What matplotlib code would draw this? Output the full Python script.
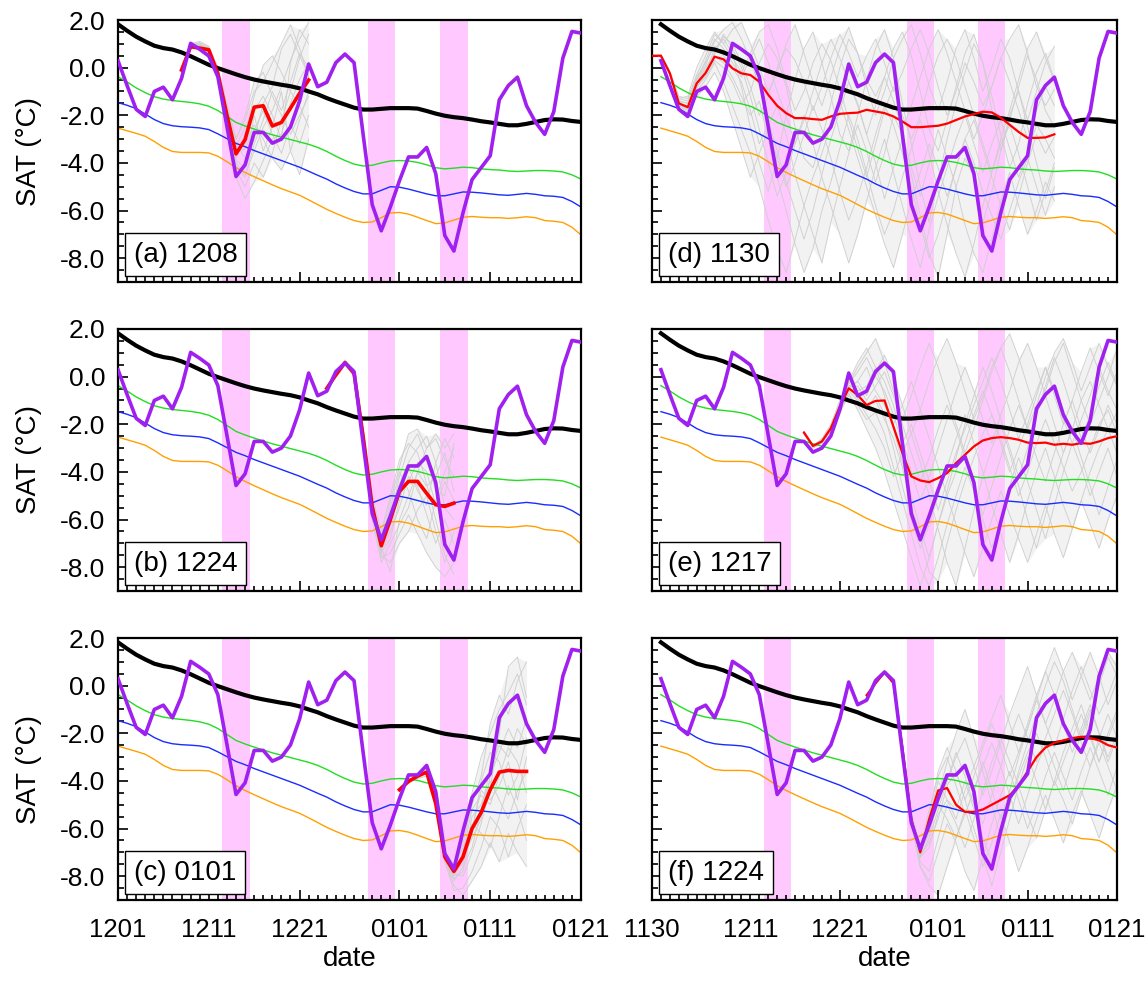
import matplotlib
matplotlib.use('Agg')
import matplotlib.pyplot as plt
import numpy as np

plt.rcParams['font.family'] = ['Liberation Sans', 'DejaVu Sans']

# ---------------- data (day index: 0 = Dec 1, 31 = Jan 1) ----------------
clim_mean = [1.82, 1.55, 1.30, 1.10, 0.92, 0.82, 0.76, 0.64, 0.48, 0.30,
             0.12, -0.02, -0.15, -0.28, -0.40, -0.50, -0.58, -0.65, -0.72, -0.78,
             -0.87, -1.00, -1.12, -1.28, -1.42, -1.55, -1.68, -1.76, -1.76, -1.73,
             -1.70, -1.70, -1.70, -1.72, -1.82, -1.93, -2.02, -2.08, -2.12, -2.18,
             -2.25, -2.30, -2.36, -2.42, -2.42, -2.36, -2.28, -2.20, -2.17, -2.18,
             -2.24, -2.28]
obs_sat = [0.29, -0.75, -1.75, -2.05, -1.00, -0.82, -1.35, -0.45, 1.02, 0.77,
           0.49, -0.38, -2.47, -4.57, -4.08, -2.72, -2.72, -3.17, -3.00, -2.49,
           -1.40, 0.15, -0.80, -0.61, 0.21, 0.57, 0.21, -2.80, -5.75, -6.85,
           -5.85, -4.75, -3.75, -3.75, -3.35, -4.45, -7.05, -7.70, -6.10, -4.70,
           -4.20, -3.70, -1.35, -0.75, -0.40, -1.60, -2.30, -2.80, -1.85, 0.40,
           1.52, 1.45]
pct_green = [-0.38, -0.60, -0.85, -1.05, -1.22, -1.32, -1.38, -1.42, -1.46, -1.52,
             -1.62, -1.80, -2.05, -2.30, -2.45, -2.58, -2.70, -2.82, -2.92, -3.02,
             -3.12, -3.22, -3.35, -3.52, -3.72, -3.90, -4.05, -4.13, -4.10, -4.00,
             -3.92, -3.90, -3.92, -3.98, -4.08, -4.20, -4.25, -4.22, -4.18, -4.20,
             -4.25, -4.28, -4.30, -4.34, -4.36, -4.34, -4.32, -4.32, -4.34, -4.38,
             -4.50, -4.68]
pct_blue = [-1.47, -1.58, -1.72, -1.95, -2.18, -2.35, -2.44, -2.48, -2.50, -2.53,
            -2.60, -2.78, -2.98, -3.18, -3.32, -3.48, -3.62, -3.76, -3.90, -4.04,
            -4.18, -4.35, -4.52, -4.68, -4.88, -5.05, -5.20, -5.30, -5.30, -5.15,
            -5.00, -5.02, -5.10, -5.20, -5.30, -5.38, -5.38, -5.30, -5.22, -5.23,
            -5.26, -5.30, -5.34, -5.36, -5.32, -5.28, -5.32, -5.38, -5.40, -5.45,
            -5.62, -5.85]
pct_orange = [-2.54, -2.65, -2.76, -2.88, -3.10, -3.35, -3.52, -3.56, -3.56, -3.56,
              -3.58, -3.72, -3.95, -4.20, -4.40, -4.58, -4.75, -4.92, -5.08, -5.22,
              -5.36, -5.55, -5.75, -5.95, -6.12, -6.28, -6.42, -6.50, -6.48, -6.30,
              -6.10, -6.08, -6.15, -6.28, -6.42, -6.55, -6.52, -6.40, -6.28, -6.25,
              -6.28, -6.30, -6.30, -6.33, -6.30, -6.26, -6.30, -6.42, -6.45, -6.50,
              -6.70, -7.02]

cold_event_days = [13, 29, 37]

# forecast start days and ensemble means
start_a, start_b, start_c = 7, 23, 31
start_d, start_e, start_f = -1, 16, 23

mean_a = [-0.10, 0.88, 0.82, 0.75, -0.25, -2.00, -3.62, -3.02, -1.66, -1.60,
          -2.45, -2.30, -1.70, -1.08, -0.52]
mean_b = [-0.49, 0.07, 0.59, 0.14, -2.50, -5.45, -7.10, -6.00, -4.82, -4.40,
          -4.40, -4.90, -5.38, -5.45, -5.31]
mean_c = [-4.37, -4.02, -3.80, -3.63, -4.95, -7.19, -7.80, -7.19, -6.00, -5.33,
          -4.37, -3.63, -3.56, -3.60, -3.60]
mean_d = [0.50, 0.50, -0.24, -1.50, -1.66, -0.66, -0.22, 0.46, 0.35, -0.03,
          -0.24, -0.31, -0.59, -1.14, -1.60, -1.91, -2.12, -2.12, -2.16, -2.19,
          -2.05, -1.94, -1.91, -1.89, -1.77, -1.84, -1.91, -2.05, -2.26, -2.50,
          -2.50, -2.47, -2.44, -2.35, -2.20, -2.05, -1.95, -1.85, -1.88, -2.10,
          -2.40, -2.70, -2.95, -2.95, -2.93, -2.80]
mean_e = [-2.35, -2.91, -2.72, -2.17, -1.26, -0.49, -0.77, -1.19, -1.02, -1.00,
          -2.10, -3.21, -4.19, -4.36, -4.43, -4.26, -4.05, -3.63, -3.28, -2.93,
          -2.68, -2.58, -2.54, -2.58, -2.65, -2.77, -2.79, -2.77, -2.86, -2.82,
          -2.86, -2.79, -2.82, -2.72, -2.58, -2.50]
mean_f = [-0.40, 0.10, 0.55, 0.10, -2.60, -5.60, -7.00, -5.60, -4.40, -4.30,
          -5.00, -5.30, -5.30, -5.20, -5.00, -4.80, -4.60, -4.20, -3.60, -3.00,
          -2.60, -2.40, -2.30, -2.20, -2.15, -2.20, -2.30, -2.50, -2.60]

members_a = [
    [-0.10, 0.90, 1.00, 0.80, -0.20, -2.20, -4.00, -4.50, -3.50, -2.50, -1.80, -0.80, 0.30, 1.20, 1.90],
    [-0.20, 0.80, 0.80, 0.60, -0.50, -2.60, -4.60, -5.50, -4.80, -3.90, -3.00, -2.80, -1.50, -0.50, 0.20],
    [0.00, 1.00, 1.10, 0.90, 0.00, -1.50, -3.00, -2.00, -0.60, -0.20, -1.20, -2.00, -2.80, -2.00, -1.20],
    [-0.10, 0.90, 0.90, 0.70, -0.30, -2.00, -3.50, -3.20, -2.40, -3.00, -3.80, -4.30, -3.50, -2.20, -1.00],
    [-0.20, 0.80, 0.90, 0.80, -0.40, -2.30, -3.80, -2.80, -1.20, 0.10, 0.50, -0.20, -1.00, -1.60, -2.50],
    [-0.10, 0.90, 1.00, 0.70, -0.10, -1.80, -3.20, -3.80, -3.00, -1.50, -0.80, 0.80, 1.40, 0.50, -0.30],
    [-0.10, 0.85, 0.90, 0.80, -0.30, -2.10, -3.90, -4.20, -2.00, -3.50, -2.50, -1.00, -3.50, -4.50, -3.00],
    [-0.15, 0.90, 0.95, 0.75, -0.25, -1.90, -3.30, -2.50, -1.80, -1.20, -2.00, -3.00, 0.20, 1.60, 1.00],
    [-0.05, 0.95, 1.05, 0.85, -0.10, -1.70, -3.00, -2.20, -1.00, -0.60, 0.20, 1.00, 1.80, 0.80, -0.40],
    [-0.20, 0.85, 0.85, 0.65, -0.45, -2.40, -4.30, -5.00, -4.00, -4.60, -3.60, -2.20, -1.00, 0.40, 1.40],
    [-0.10, 0.90, 0.95, 0.80, -0.20, -2.00, -3.60, -3.40, -2.60, -1.80, -2.80, -3.60, -2.40, -3.20, -2.00],
    [-0.15, 0.88, 0.92, 0.72, -0.35, -2.20, -4.10, -4.60, -3.20, -2.20, -1.00, -1.80, -0.60, 0.60, 0.00],
]
members_b = [
    [-0.50, 0.10, 0.70, 0.30, -2.20, -5.00, -6.50, -5.00, -3.50, -2.80, -3.20, -4.50, -6.00, -7.50, -8.30],
    [-0.45, 0.00, 0.50, 0.00, -2.80, -6.00, -7.80, -7.00, -6.20, -5.50, -4.00, -3.00, -2.60, -3.50, -4.20],
    [-0.50, 0.10, 0.60, 0.20, -2.40, -5.30, -6.80, -5.50, -4.00, -4.80, -6.00, -6.80, -5.20, -4.00, -3.00],
    [-0.55, 0.05, 0.55, 0.10, -2.60, -5.80, -7.50, -7.80, -7.00, -6.50, -5.60, -5.00, -6.50, -7.80, -6.50],
    [-0.50, 0.10, 0.65, 0.20, -2.30, -5.20, -6.90, -6.00, -4.20, -3.00, -2.40, -3.50, -4.80, -5.00, -2.80],
    [-0.48, 0.05, 0.60, 0.15, -2.50, -5.60, -7.30, -6.50, -5.50, -4.20, -4.60, -5.80, -7.00, -6.00, -7.00],
    [-0.50, 0.10, 0.60, 0.10, -2.60, -5.70, -7.00, -5.80, -4.50, -3.60, -3.00, -2.50, -3.60, -5.50, -6.00],
    [-0.50, 0.05, 0.55, 0.15, -2.50, -5.50, -7.20, -8.20, -6.00, -5.00, -4.00, -4.60, -4.20, -3.20, -4.80],
    [-0.50, 0.10, 0.62, 0.20, -2.40, -5.40, -6.60, -5.20, -3.80, -2.40, -2.20, -3.00, -2.40, -3.00, -2.40],
    [-0.48, 0.05, 0.58, 0.12, -2.60, -5.70, -7.60, -7.40, -6.60, -5.80, -6.60, -7.40, -8.00, -8.40, -7.80],
    [-0.50, 0.08, 0.60, 0.16, -2.50, -5.50, -7.00, -6.20, -5.00, -4.40, -3.60, -4.00, -5.40, -4.40, -5.20],
    [-0.50, 0.06, 0.56, 0.10, -2.55, -5.60, -7.40, -6.80, -5.20, -3.80, -4.80, -5.40, -3.60, -2.60, -3.40],
]
members_c = [
    [-4.40, -4.00, -3.70, -3.50, -4.80, -7.00, -7.50, -6.00, -4.50, -3.00, -2.00, -1.00, -0.30, 0.50, -0.80],
    [-4.35, -4.05, -3.90, -3.80, -5.10, -7.40, -8.60, -8.50, -7.80, -6.80, -5.50, -6.00, -7.20, -6.00, -5.00],
    [-4.40, -4.00, -3.80, -3.60, -4.90, -7.10, -7.80, -7.00, -5.20, -4.60, -5.00, -3.80, -2.60, -3.20, -4.50],
    [-4.35, -4.00, -3.75, -3.70, -5.00, -7.30, -8.20, -7.60, -6.80, -5.20, -3.50, -2.50, -3.00, -1.80, -2.50],
    [-4.40, -4.10, -3.85, -3.60, -4.85, -7.00, -7.60, -6.80, -5.80, -6.20, -6.80, -5.50, -4.20, -5.20, -6.50],
    [-4.38, -4.00, -3.80, -3.65, -5.00, -7.20, -8.00, -7.30, -6.20, -4.00, -2.80, -3.20, -4.60, -3.80, -2.20],
    [-4.37, -4.02, -3.80, -3.60, -4.90, -7.20, -7.90, -8.00, -7.00, -5.80, -4.30, -2.00, 0.80, 1.20, -0.50],
    [-4.36, -4.00, -3.80, -3.62, -4.95, -7.10, -7.70, -7.50, -5.50, -5.00, -4.00, -4.80, -5.60, -4.40, -3.60],
    [-4.38, -4.02, -3.82, -3.64, -4.90, -7.10, -7.70, -6.60, -5.00, -3.80, -1.60, -0.40, -1.20, 0.20, 1.00],
    [-4.36, -4.02, -3.80, -3.60, -5.00, -7.30, -8.40, -8.80, -8.20, -7.60, -6.60, -7.40, -6.20, -7.00, -7.60],
    [-4.37, -4.00, -3.78, -3.62, -4.92, -7.10, -7.80, -7.20, -6.40, -5.60, -3.80, -2.80, -1.80, -2.60, -1.40],
    [-4.38, -4.04, -3.82, -3.66, -5.00, -7.25, -8.10, -7.80, -6.00, -4.40, -4.80, -4.20, -3.20, -4.80, -3.00],
]
members_d = [
    [0.50, 0.50, -0.30, -1.60, -1.80, -0.90, -0.20, 0.80, 1.20, 0.60,
     -0.80, -2.50, -4.00, -5.20, -3.80, -2.00, -0.50, 0.80, 1.50, 0.20,
     -1.20, -2.80, -3.50, -2.00, -0.50, 0.80, 1.60, 0.40, -1.50, -3.20,
     -5.00, -6.50, -4.80, -3.00, -1.50, -0.20, 1.00, 0.20, -1.80, -3.50,
     -2.20, -0.80, 0.50, -0.50, -1.80, -2.50],
    [0.55, 0.45, -0.20, -1.40, -1.50, -0.50, 0.10, 1.10, 1.60, 1.90,
     1.20, 0.30, -0.80, -2.20, -3.50, -4.80, -6.00, -7.20, -6.00, -4.50,
     -3.00, -1.80, -0.60, -1.50, -2.80, -4.00, -5.50, -4.20, -3.00, -4.50,
     -6.20, -7.80, -8.80, -7.00, -5.00, -3.80, -4.60, -6.50, -5.20, -3.50,
     -2.00, -1.00, -2.50, -4.00, -5.50, -4.20],
    [0.50, 0.50, -0.25, -1.50, -1.70, -0.80, -0.40, 0.30, 0.00, -0.60,
     -1.50, -1.00, 0.20, 1.00, 0.40, -0.80, -2.50, -3.80, -4.20, -3.00,
     -1.50, 0.00, 1.20, 0.60, -0.50, -1.20, -0.40, 0.80, 1.50, 0.50,
     -1.00, -2.60, -3.50, -2.20, -0.80, 0.60, 1.40, 0.20, -1.20, -2.80,
     -4.20, -3.20, -1.50, -0.20, 0.60, -0.50],
    [0.45, 0.50, -0.20, -1.30, -1.40, -0.40, 0.20, 0.90, 0.50, 0.00,
     -0.60, -1.80, -3.20, -2.40, -1.60, -2.80, -4.50, -5.80, -7.00, -8.20,
     -6.50, -5.00, -3.60, -2.40, -3.50, -4.80, -3.60, -2.00, -2.80, -4.20,
     -5.40, -4.00, -2.60, -3.80, -5.00, -6.60, -7.80, -8.60, -7.20, -5.60,
     -4.40, -5.80, -7.00, -6.00, -4.80, -5.60],
    [0.50, 0.55, -0.15, -1.20, -1.30, -0.30, 0.50, 1.40, 1.00, 0.40,
     -0.20, 0.60, 1.50, 1.80, 0.80, -0.60, -1.80, -1.00, 0.20, 1.00,
     0.30, -0.90, -2.20, -3.40, -4.60, -3.20, -1.80, -0.80, -2.00, -3.00,
     -2.00, -0.60, 0.50, 1.20, 0.40, -0.80, -2.00, -3.20, -4.40, -3.00,
     -1.80, -0.50, 0.80, 1.50, 0.40, -0.60],
    [0.50, 0.50, -0.30, -1.60, -1.90, -1.20, -0.80, -0.20, -1.00, -2.20,
     -3.40, -4.60, -3.60, -2.60, -3.80, -5.00, -4.00, -2.80, -1.60, -2.60,
     -3.80, -5.20, -6.40, -5.40, -4.20, -2.80, -1.60, -2.40, -3.60, -5.00,
     -6.60, -8.00, -7.00, -5.60, -4.20, -3.00, -2.20, -3.40, -4.60, -5.80,
     -6.80, -5.40, -4.00, -2.80, -3.60, -2.90],
    [0.50, 0.48, -0.25, -1.50, -1.60, -0.60, 0.00, 0.60, 1.30, 1.00,
     0.20, -0.80, -2.00, -1.20, 0.00, 0.80, 0.30, -0.60, -1.80, -0.80,
     0.40, 1.40, 0.60, -0.40, 0.50, 1.20, 0.20, -1.00, -0.20, 0.80,
     1.60, 0.60, -0.80, -2.00, -1.00, 0.20, -0.60, -1.60, -0.80, 0.40,
     1.20, 1.80, 0.60, -0.80, -1.60, -0.90],
    [0.50, 0.52, -0.20, -1.45, -1.65, -0.70, -0.10, 0.50, 0.20, -0.40,
     -1.20, -2.00, -1.40, -3.00, -4.60, -6.00, -7.40, -8.60, -7.60, -6.00,
     -4.80, -3.40, -2.00, -3.00, -4.40, -5.80, -7.00, -6.00, -4.60, -3.40,
     -2.20, -3.60, -5.20, -6.60, -7.80, -8.80, -7.40, -5.80, -4.40, -3.20,
     -2.40, -3.60, -5.00, -6.40, -5.20, -4.00],
    [0.50, 0.50, -0.20, -1.30, -1.20, 0.00, 0.80, 1.50, 1.00, 1.60,
     1.90, 1.00, 0.00, -1.00, -0.20, 1.00, 1.80, 0.60, -0.60, -1.60,
     -0.40, 0.80, 1.70, 0.60, -0.80, -2.00, -1.00, 0.40, 1.20, 1.80,
     0.60, -0.80, -1.80, -0.60, 0.80, 1.60, 0.40, -1.00, 0.00, 1.20,
     0.40, -1.00, -2.20, -1.00, 0.20, 0.90],
    [0.50, 0.50, -0.30, -1.55, -1.75, -1.00, -0.50, 0.20, -0.60, -1.60,
     -2.60, -3.60, -5.00, -6.40, -7.60, -8.60, -7.20, -5.80, -4.60, -3.60,
     -2.40, -1.40, -2.60, -3.80, -5.00, -6.20, -7.40, -8.40, -7.00, -5.60,
     -4.40, -3.20, -4.20, -5.40, -4.20, -3.00, -4.00, -5.20, -6.20, -7.20,
     -6.00, -4.80, -3.80, -5.00, -6.20, -5.00],
    [0.50, 0.50, -0.20, -1.40, -1.50, -0.50, 0.30, 1.20, 0.80, 0.20,
     -0.40, 0.40, 1.20, 0.20, -1.00, -2.00, -3.20, -2.20, -1.00, 0.20,
     1.20, 0.40, -0.60, -1.60, -2.80, -1.60, -0.40, -1.40, -2.60, -1.60,
     -0.40, 0.80, 1.60, 0.60, -0.60, -1.80, -3.00, -2.00, -0.80, 0.40,
     -0.60, -1.80, -3.00, -1.80, -0.80, -1.60],
    [0.50, 0.50, -0.25, -1.50, -1.70, -0.80, -0.30, 0.60, 1.40, 0.80,
     0.00, -1.20, -2.60, -4.00, -5.40, -4.40, -3.20, -2.00, -3.20, -4.60,
     -5.80, -7.00, -8.20, -7.00, -5.60, -4.20, -3.00, -4.40, -5.80, -7.20,
     -8.40, -6.80, -5.40, -4.20, -3.00, -2.00, -3.20, -4.40, -3.20, -2.20,
     -3.40, -4.60, -3.60, -2.40, -3.00, -3.80],
]
members_e = [
    [-2.40, -2.90, -2.60, -2.00, -1.00, -0.20, 0.60, 1.20, 0.40, -0.80,
     -2.20, -3.60, -5.00, -6.40, -7.60, -6.20, -4.80, -3.40, -2.00, -0.80,
     0.40, -0.60, -1.80, -3.00, -4.20, -3.00, -1.60, -0.40, 0.80, -0.20,
     -1.40, -2.60, -1.60, -0.40, 0.60, -0.30],
    [-2.30, -2.95, -2.80, -2.30, -1.50, -0.80, -1.20, -1.80, -1.50, -2.40,
     -3.80, -5.20, -6.60, -8.00, -8.80, -7.60, -6.20, -5.00, -3.80, -4.80,
     -6.00, -7.20, -6.00, -4.60, -3.40, -4.40, -5.60, -6.80, -5.40, -4.00,
     -2.80, -3.80, -5.00, -4.00, -3.00, -4.20],
    [-2.35, -2.85, -2.70, -2.10, -1.20, -0.40, -0.20, -0.80, 0.20, 0.90,
     0.00, -1.20, -2.40, -1.40, -0.20, 0.80, 1.60, 0.60, -0.60, -1.80,
     -0.80, 0.40, 1.20, 0.20, -1.00, -2.20, -1.20, 0.00, 1.00, 1.60,
     0.60, -0.60, 0.40, 1.40, 0.40, -0.40],
    [-2.40, -3.00, -2.80, -2.20, -1.40, -0.60, -1.00, -1.60, -2.20, -3.00,
     -4.20, -3.20, -2.40, -3.60, -5.00, -6.40, -7.80, -8.80, -7.20, -5.60,
     -4.20, -3.00, -2.00, -3.20, -4.60, -6.00, -7.20, -5.80, -4.40, -3.20,
     -2.20, -3.40, -4.60, -5.80, -4.60, -3.50],
    [-2.30, -2.90, -2.75, -2.20, -1.30, -0.50, -0.60, -0.40, 0.40, -0.20,
     -1.20, -2.60, -4.00, -5.20, -4.20, -3.00, -1.80, -0.60, 0.40, -0.60,
     -1.80, -2.80, -1.60, -0.60, 0.60, 1.40, 0.40, -0.80, -2.00, -3.20,
     -2.20, -1.00, -0.20, -1.20, -2.20, -1.50],
    [-2.35, -2.90, -2.70, -2.15, -1.25, -0.45, -0.90, -1.40, -0.80, -1.60,
     -3.00, -4.60, -6.00, -7.20, -6.20, -5.00, -3.80, -2.60, -1.60, -2.80,
     -4.00, -5.40, -6.60, -7.80, -6.60, -5.20, -4.00, -3.00, -4.20, -5.40,
     -6.40, -5.20, -4.00, -3.00, -2.20, -3.20],
    [-2.40, -2.90, -2.65, -2.10, -1.10, -0.30, 0.20, 0.80, 0.00, -0.60,
     -1.60, -2.80, -2.00, -3.20, -4.40, -5.60, -4.40, -3.20, -2.20, -1.20,
     -0.20, 0.80, -0.20, -1.40, -2.60, -1.60, -0.60, 0.40, -0.80, -2.00,
     -1.00, 0.20, 1.20, 0.20, -0.80, 0.20],
    [-2.30, -2.85, -2.70, -2.20, -1.30, -0.50, -0.80, -1.20, -1.00, -1.80,
     -2.60, -3.80, -5.40, -6.80, -8.20, -8.60, -7.00, -5.60, -4.40, -3.40,
     -2.40, -1.60, -2.60, -3.80, -5.00, -4.00, -2.80, -1.80, -2.80, -3.80,
     -4.80, -4.00, -3.00, -2.00, -1.40, -2.40],
    [-2.35, -2.90, -2.70, -2.10, -1.10, -0.30, 0.40, 1.00, 1.60, 0.60,
     -0.60, -1.80, -0.80, 0.40, 1.40, 0.40, -0.80, -2.00, -3.20, -2.20,
     -1.00, 0.20, 1.20, 1.80, 0.80, -0.40, -1.60, -0.60, 0.60, 1.40,
     0.20, -1.00, -2.00, -1.00, 0.00, 1.20],
    [-2.35, -2.95, -2.80, -2.25, -1.40, -0.70, -1.40, -2.20, -3.00, -4.00,
     -5.20, -6.40, -7.60, -8.80, -7.60, -6.20, -5.00, -6.20, -7.40, -8.40,
     -7.20, -6.00, -4.80, -5.80, -6.80, -7.80, -6.60, -5.40, -6.60, -7.60,
     -6.40, -5.20, -6.20, -7.20, -6.00, -5.00],
    [-2.35, -2.90, -2.70, -2.15, -1.20, -0.40, -0.40, -1.00, -0.40, 0.20,
     -0.80, -2.00, -3.20, -4.40, -3.40, -2.20, -1.20, -2.20, -3.40, -4.60,
     -5.80, -4.60, -3.40, -2.20, -1.20, -2.20, -3.40, -4.40, -3.20, -2.00,
     -1.00, -2.20, -3.20, -2.20, -1.20, -2.00],
    [-2.40, -2.90, -2.70, -2.20, -1.30, -0.50, -0.20, 0.40, -0.60, -1.20,
     -2.00, -1.20, -0.20, -1.40, -2.60, -3.80, -5.00, -4.00, -2.80, -1.60,
     -0.60, -1.60, -2.80, -4.00, -3.00, -2.00, -0.80, 0.40, -0.60, -1.80,
     -2.80, -1.80, -0.80, 0.40, -0.60, -1.40],
]
members_f = [
    [-0.45, 0.10, 0.65, 0.20, -2.40, -5.40, -7.00, -6.00, -4.60, -3.20,
     -2.00, -1.00, -2.20, -3.60, -5.00, -6.40, -5.00, -3.60, -2.40, -1.20,
     0.00, 1.00, 0.20, -1.00, -2.20, -1.20, 0.00, 1.20, 0.40],
    [-0.50, 0.05, 0.55, 0.10, -2.70, -5.80, -7.60, -8.20, -7.00, -5.80,
     -6.60, -7.80, -8.60, -7.20, -5.80, -4.60, -3.60, -4.80, -6.00, -5.00,
     -3.80, -2.80, -3.80, -4.80, -3.60, -2.60, -3.60, -4.60, -3.40],
    [-0.50, 0.10, 0.60, 0.10, -2.50, -5.60, -7.20, -5.60, -4.00, -4.80,
     -5.60, -4.40, -3.40, -2.40, -1.40, -0.40, -1.60, -2.80, -1.80, -0.60,
     0.60, -0.40, -1.60, -2.80, -1.80, -0.80, -2.00, -3.20, -2.20],
    [-0.48, 0.08, 0.58, 0.15, -2.55, -5.50, -7.10, -6.60, -5.60, -4.20,
     -3.60, -4.80, -6.00, -7.20, -8.40, -7.00, -5.60, -4.20, -3.00, -4.00,
     -5.20, -4.00, -2.80, -1.80, -0.80, -2.00, -3.20, -2.20, -1.20],
    [-0.50, 0.10, 0.62, 0.18, -2.45, -5.30, -6.80, -5.20, -3.80, -3.00,
     -4.20, -5.40, -4.40, -3.20, -4.40, -5.60, -4.40, -3.00, -1.80, -0.60,
     -1.60, -2.60, -1.40, -0.20, 0.80, -0.20, -1.20, -0.40, 0.60],
    [-0.46, 0.06, 0.56, 0.12, -2.60, -5.70, -7.40, -7.80, -6.40, -5.00,
     -5.80, -6.80, -5.60, -4.40, -3.20, -2.20, -3.20, -4.20, -5.40, -6.40,
     -5.20, -4.00, -4.80, -5.80, -4.60, -3.40, -2.40, -3.40, -4.40],
    [-0.50, 0.10, 0.60, 0.15, -2.50, -5.50, -7.00, -6.20, -4.80, -4.00,
     -3.00, -2.20, -3.40, -4.60, -3.60, -2.40, -1.20, -0.20, 0.80, -0.40,
     -1.60, -0.60, 0.60, 1.40, 0.40, -0.60, 0.40, 1.40, 0.80],
    [-0.48, 0.10, 0.60, 0.12, -2.55, -5.60, -7.20, -6.80, -5.40, -4.80,
     -5.20, -4.00, -5.20, -6.40, -7.40, -6.20, -5.00, -3.80, -2.80, -2.00,
     -3.00, -4.20, -3.20, -2.20, -1.20, -2.20, -3.20, -2.00, -1.00],
    [-0.50, 0.10, 0.60, 0.15, -2.50, -5.40, -6.80, -5.40, -3.60, -2.60,
     -3.60, -4.80, -3.80, -2.60, -1.60, -2.60, -3.80, -2.80, -1.60, -0.40,
     0.60, 1.60, 0.60, -0.60, 0.40, 1.40, 0.40, -0.80, 0.20],
    [-0.48, 0.06, 0.56, 0.10, -2.60, -5.80, -7.60, -8.40, -8.80, -7.60,
     -6.40, -5.20, -6.40, -7.60, -6.60, -5.40, -6.60, -7.80, -6.80, -5.60,
     -4.60, -5.60, -6.60, -5.40, -4.40, -5.40, -6.40, -5.20, -4.20],
    [-0.50, 0.08, 0.58, 0.14, -2.50, -5.50, -7.10, -6.00, -5.00, -5.60,
     -6.40, -5.40, -4.40, -3.40, -2.40, -3.40, -4.60, -5.80, -4.60, -3.40,
     -2.40, -3.40, -4.40, -3.20, -2.00, -1.00, -2.00, -3.00, -2.00],
    [-0.48, 0.10, 0.60, 0.12, -2.55, -5.60, -7.20, -6.40, -5.20, -4.00,
     -2.80, -3.80, -5.00, -5.80, -4.60, -3.40, -2.20, -1.20, -2.20, -3.20,
     -2.20, -1.20, -0.20, -1.20, -2.40, -3.40, -2.20, -1.20, -2.20],
]

panel_labels = ['(a) 1208', '(b) 1224', '(c) 0101', '(d) 1130', '(e) 1217', '(f) 1224']
left_tick_labels = ['1201', '1211', '1221', '0101', '0111', '0121']
right_tick_labels = ['1130', '1211', '1221', '0101', '0111', '0121']
left_tick_days = [0, 10, 20, 31, 41, 51]
right_tick_days = [-1, 10, 20, 31, 41, 51]

# ---------------- styling ----------------
C_PURPLE = '#a020f0'
C_PINK = '#ffc8ff'
C_GRAY = '#cfcfcf'
C_BAND = '#f2f2f2'

fig = plt.figure(figsize=(11.48, 9.85), dpi=100)
W, H = 1148.0, 985.0
col_x = [(118 / W, 463 / W), (652 / W, 465 / W)]
row_top = [20, 329, 638]
ax_h = 262

panels = [
    (0, 0, start_a, mean_a, members_a, 2.6),
    (0, 1, start_b, mean_b, members_b, 2.6),
    (0, 2, start_c, mean_c, members_c, 2.6),
    (1, 0, start_d, mean_d, members_d, 1.6),
    (1, 1, start_e, mean_e, members_e, 1.6),
    (1, 2, start_f, mean_f, members_f, 1.6),
]

days = np.arange(len(clim_mean))

for i, (col, row, start, mean, members, red_lw) in enumerate(panels):
    x0, w = col_x[col]
    y0 = (H - row_top[row] - ax_h) / H
    ax = fig.add_axes([x0, y0, w, ax_h / H])

    xmin = 0 if col == 0 else -1
    ax.set_xlim(xmin, 51)
    ax.set_ylim(-9, 2)

    fdays = np.arange(start, start + len(mean))
    marr = np.array(members)
    ax.fill_between(fdays, marr.min(axis=0), marr.max(axis=0), color=C_BAND,
                    lw=0, zorder=0.2)
    for d in cold_event_days:
        ax.axvspan(d - 1.5, d + 1.5, color=C_PINK, lw=0, zorder=0.5)
    for m in members:
        ax.plot(np.arange(start, start + len(m)), m, color=C_GRAY, lw=0.65, zorder=1)

    ax.plot(days, pct_green, color='#22dd22', lw=1.0, zorder=2)
    ax.plot(days, pct_blue, color='#1a2cff', lw=1.0, zorder=2)
    ax.plot(days, pct_orange, color='#ffa000', lw=1.0, zorder=2)
    ax.plot(days, clim_mean, color='black', lw=3.0, zorder=3)
    ax.plot(fdays, mean, color='red', lw=red_lw, zorder=4)
    ax.plot(days, obs_sat, color=C_PURPLE, lw=2.6, zorder=5)

    # ticks
    tdays = left_tick_days if col == 0 else right_tick_days
    ax.set_xticks(tdays)
    ax.set_xticks(np.arange(xmin, 52), minor=True)
    ax.set_yticks([2, 0, -2, -4, -6, -8])
    ax.set_yticks(np.arange(-9, 2.01, 0.5), minor=True)
    if row == 2:
        ax.set_xticklabels(left_tick_labels if col == 0 else right_tick_labels)
        ax.set_xlabel('date', fontsize=20)
        ax.xaxis.set_label_coords(0.5, -0.175)
    else:
        ax.set_xticklabels([])
    if col == 0:
        ax.set_yticklabels(['%.1f' % v for v in [2, 0, -2, -4, -6, -8]])
        ax.set_ylabel('SAT (°C)', fontsize=20)
        ax.yaxis.set_label_coords(-0.165, 0.5)
    else:
        ax.set_yticklabels([])

    ax.tick_params(axis='both', which='both', direction='in', top=False, right=False,
                   width=1.2)
    ax.tick_params(axis='x', which='major', length=7, pad=13, labelsize=18.5)
    ax.tick_params(axis='x', which='minor', length=3.5)
    ax.tick_params(axis='y', which='major', length=7, pad=9, labelsize=19)
    ax.tick_params(axis='y', which='minor', length=4)
    for sp in ax.spines.values():
        sp.set_linewidth(1.6)

    ax.text(0.034, 0.055, panel_labels[i], transform=ax.transAxes, fontsize=20,
            ha='left', va='bottom', zorder=10,
            bbox=dict(boxstyle='square,pad=0.32', fc='white', ec='black', lw=1.0))

fig.savefig('out.png', dpi=100)
